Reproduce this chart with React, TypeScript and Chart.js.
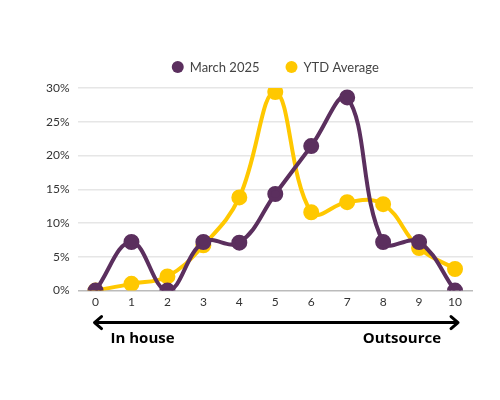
import { useEffect, useRef } from "react";
import { Chart, ChartConfiguration, Plugin } from "chart.js/auto";

const labels = ["0", "1", "2", "3", "4", "5", "6", "7", "8", "9", "10"];
const march2025 = [0, 7.2, 0, 7.2, 7.1, 14.3, 21.4, 28.6, 7.2, 7.2, 0];
const ytdAverage = [0, 1.0, 2.1, 6.7, 13.8, 29.4, 11.6, 13.1, 12.8, 6.3, 3.2];
const yTicks = [0, 5, 10, 15, 20, 25, 30];
const leftLabel = "In house";
const rightLabel = "Outsource";

const PURPLE = "#5b2f5e";
const YELLOW = "#ffc800";
const FONT = "Lato, 'Noto Sans', sans-serif";

// legend centred over the chart area (the built-in one centres over the padded box)
const legendPlugin: Plugin<"line"> = {
  id: "legendPlugin",
  afterDraw(chart) {
    const ctx = chart.ctx;
    const { left, right } = chart.chartArea;
    const y = 67;
    const r = 6;
    const gap = 6;
    const spacing = 26;
    ctx.save();
    ctx.font = `13px ${FONT}`;
    ctx.textBaseline = "middle";
    const items = chart.data.datasets.map((ds) => ({
      text: ds.label as string,
      color: ds.borderColor as string,
      w: ctx.measureText(ds.label as string).width,
    }));
    const total =
      items.reduce((s, it) => s + 2 * r + gap + it.w, 0) + spacing * (items.length - 1);
    let x = (left + right) / 2 - total / 2;
    items.forEach((it) => {
      ctx.fillStyle = it.color;
      ctx.beginPath();
      ctx.arc(x + r, y, r, 0, Math.PI * 2);
      ctx.fill();
      ctx.fillStyle = "#444";
      ctx.textAlign = "left";
      ctx.fillText(it.text, x + 2 * r + gap, y + 1);
      x += 2 * r + gap + it.w + spacing;
    });
    ctx.restore();
  },
};

// double-headed arrow with the two end labels under the x axis
const arrowPlugin: Plugin<"line"> = {
  id: "arrowPlugin",
  afterDraw(chart) {
    const ctx = chart.ctx;
    const x = chart.scales.x;
    const left = x.getPixelForValue(0) - 1;
    const right = x.getPixelForValue(labels.length - 1) + 3;
    const y = chart.chartArea.bottom + 32;
    ctx.save();
    ctx.strokeStyle = "#000";
    ctx.lineWidth = 3;
    ctx.lineCap = "round";
    ctx.lineJoin = "round";
    ctx.beginPath();
    ctx.moveTo(left, y);
    ctx.lineTo(right, y);
    ctx.moveTo(left + 7, y - 6);
    ctx.lineTo(left, y);
    ctx.lineTo(left + 7, y + 6);
    ctx.moveTo(right - 7, y - 6);
    ctx.lineTo(right, y);
    ctx.lineTo(right - 7, y + 6);
    ctx.stroke();
    ctx.fillStyle = "#000";
    ctx.font = "bold 15px 'Open Sans', sans-serif";
    ctx.textBaseline = "middle";
    ctx.textAlign = "left";
    ctx.fillText(leftLabel, left + 16, y + 16);
    ctx.textAlign = "right";
    ctx.fillText(rightLabel, right - 17, y + 16);
    ctx.restore();
  },
};

export default function App() {
  const chartRef = useRef<HTMLCanvasElement>(null);
  const chartInstance = useRef<Chart | null>(null);

  useEffect(() => {
    if (!chartRef.current) return;
    if (chartInstance.current) chartInstance.current.destroy();
    const ctx = chartRef.current.getContext("2d");
    if (!ctx) return;

    const config: ChartConfiguration<"line"> = {
      type: "line",
      data: {
        labels,
        datasets: [
          {
            label: "March 2025",
            data: march2025,
            borderColor: PURPLE,
            backgroundColor: PURPLE,
            borderWidth: 4,
            tension: 0.4,
            pointRadius: 6,
            pointBackgroundColor: PURPLE,
            pointBorderColor: PURPLE,
          },
          {
            label: "YTD Average",
            data: ytdAverage,
            borderColor: YELLOW,
            backgroundColor: YELLOW,
            borderWidth: 4,
            tension: 0.4,
            pointRadius: 6,
            pointBackgroundColor: YELLOW,
            pointBorderColor: YELLOW,
          },
        ],
      },
      options: {
        responsive: true,
        maintainAspectRatio: false,
        animation: false,
        layout: { padding: { top: 88, bottom: 87, left: 38, right: 27 } },
        plugins: {
          legend: { display: false },
          tooltip: { enabled: false },
        },
        scales: {
          x: {
            offset: true,
            grid: { display: false, drawTicks: false },
            border: { display: false },
            ticks: { color: "#333", font: { family: FONT, size: 12 }, padding: 4 },
          },
          y: {
            min: 0,
            max: 30,
            afterBuildTicks: (axis) => {
              axis.ticks = yTicks.map((v) => ({ value: v }));
            },
            grid: {
              color: (c) => (c.tick && c.tick.value === 0 ? "#bbbbbb" : "#e6e6e6"),
              lineWidth: 1.5,
              drawTicks: false,
            },
            border: { display: false },
            ticks: {
              color: "#333",
              font: { family: FONT, size: 12 },
              padding: 8,
              callback: (v) => v + "%",
            },
          },
        },
      },
      plugins: [legendPlugin, arrowPlugin],
    };

    chartInstance.current = new Chart(ctx, config);
    return () => {
      if (chartInstance.current) chartInstance.current.destroy();
    };
  }, []);

  return (
    <div style={{ position: "absolute", left: 0, top: 0, width: 500, height: 400, background: "#fff" }}>
      <canvas ref={chartRef} />
    </div>
  );
}
